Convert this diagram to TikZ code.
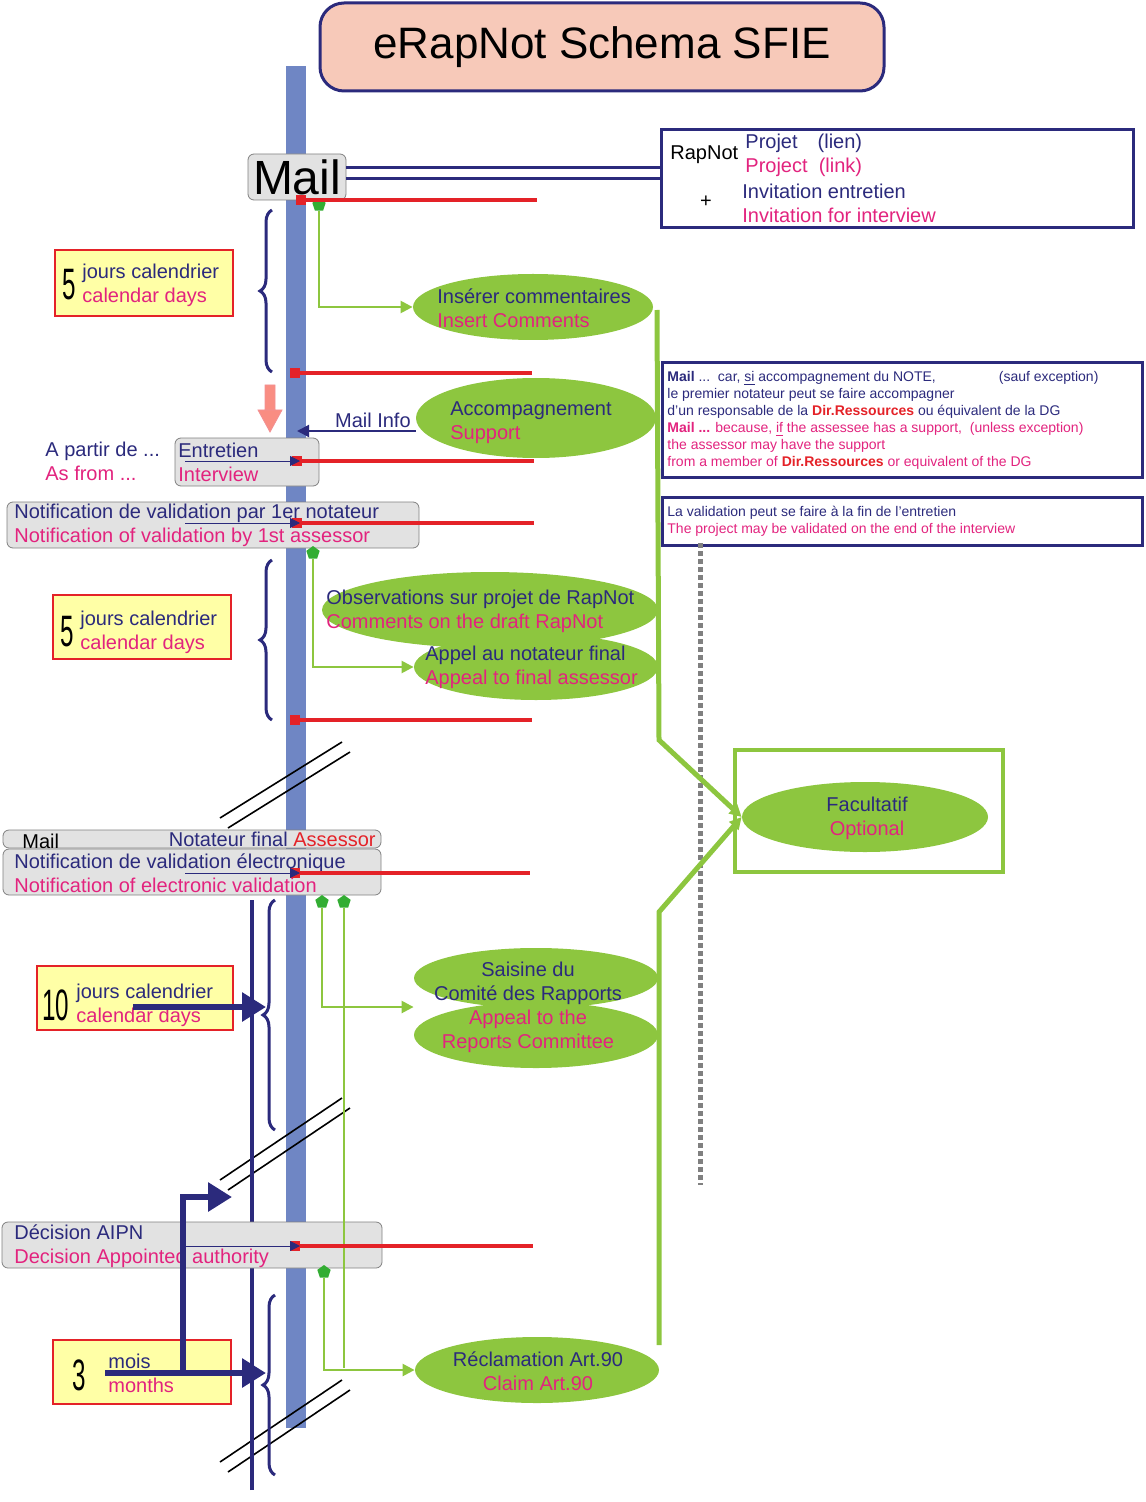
\documentclass[tikz,border=0pt]{standalone}
\usepackage{fontspec}
\setmainfont{Liberation Sans}
\usetikzlibrary{shapes,arrows.meta,positioning,decorations.pathreplacing}
\definecolor{navy}{HTML}{2B2A7C}
\definecolor{mag}{HTML}{E2237E}
\definecolor{rred}{HTML}{E42228}
\definecolor{lgreen}{HTML}{8DC63F}
\definecolor{pinkf}{HTML}{F7C9B9}
\definecolor{yel}{HTML}{FFFFA6}
\definecolor{barblue}{HTML}{6F86C4}
\definecolor{gbg}{HTML}{E2E2E2}
\newcommand{\fr}[2]{\textcolor{navy}{#1}\\\textcolor{mag}{#2}}
\newcommand{\tall}[1]{\scalebox{0.55}[1]{#1}}
\begin{document}
\begin{tikzpicture}[x=0.5pt,y=-0.5pt,
	every node/.style={font=\fontsize{10}{12}\selectfont, inner sep=0pt},
	gbox/.style={draw=gray, fill=gbg, rounded corners=3pt},
	ybox/.style={draw=rred, line width=1.2pt, fill=yel},
	ell/.style={ellipse, fill=lgreen, align=center},
	lbl/.style={align=left, anchor=west},
	redl/.style={rred, line width=2pt},
	redsq/.style={fill=rred, minimum size=5pt},
	grn/.style={lgreen, line width=1.2pt},
	garr/.style={grn, -{Triangle[length=6pt,width=6pt]}},
	pent/.style={regular polygon, regular polygon sides=5, fill=black!40!green!80, minimum size=7pt},
	brc/.style={navy, line width=1.5pt, decorate, decoration={brace, amplitude=6pt}},
	brk/.style={black, line width=0.8pt},
	narr/.style={navy, line width=3pt, -{Triangle[length=12pt,width=14pt]}},
	note/.style={lbl, font=\fontsize{7}{8.5}\selectfont}
]
\useasboundingbox (0,0) rectangle (1145,1502);
% title and time line
\node[draw=navy, line width=1.5pt, fill=pinkf, rounded corners=12pt, minimum width=282pt, minimum height=44pt,
	font=\fontsize{22}{26}\selectfont] (title) at (602,47) {eRapNot Schema SFIE};
\fill[barblue] (286,66) rectangle (306,1428);

% mail and project box
\node[gbox, minimum width=49pt, minimum height=23pt, font=\fontsize{24}{26}\selectfont] (mail) at (297,177) {Mail};
\node[draw=navy, line width=1.5pt, minimum width=236pt, minimum height=49pt] (proj) at (897,179) {};
\draw[navy, line width=1.5pt] (mail.east |- 0,168) -- (proj.west |- 0,168) (mail.east |- 0,179) -- (proj.west |- 0,179);
\node[lbl] (rapnot) at (670,155) {RapNot};
\node[lbl] (projet) at (745,155) {\fr{Projet\quad(lien)}{Project\ \ (link)}};
\node (plus) at (706,202) {+};
\node[lbl] (invit) at (742,203) {\fr{Invitation entretien}{Invitation for interview}};

% first period
\node[ybox, minimum width=89pt, minimum height=33pt] (j5a) at (144,283) {};
\node[lbl, font=\fontsize{22}{22}\selectfont] (n5a) at (62,285) {\tall{5}};
\node[lbl] (t5a) at (82,285) {\fr{jours calendrier}{calendar days}};
\draw[brc] (272,372) -- (272,210);
\node[ell, minimum width=120pt, minimum height=33pt] (ins) at (533,307) {};
\node[lbl] (tins) at (437,308) {\fr{Insérer commentaires}{Insert Comments}};
\node[pent] (p1) at (319,205) {};
\draw[garr] (p1) |- (ins.west);

% interview
\fill[pinkf!70!red, draw=rred!50] (265,385) rectangle (275,410) (258,410) -- (282,410) -- (270,432) -- cycle;
\node[ell, minimum width=120pt, minimum height=40pt] (acc) at (536,418) {};
\node[lbl] (tacc) at (450,423) {\fr{Accompagnement}{Support}};
\draw[navy, line width=1pt, -{Triangle[length=6pt,width=6pt]}] (acc.west |- 0,431) -- (297,431) node[pos=0.36, above=1pt] (minfo) {Mail Info};
\node[lbl] (apartir) at (45,461) {\fr{A partir de ...}{As from ...}};
\node[gbox, minimum width=72pt, minimum height=24pt] (entr) at (247,462) {};
\node[lbl] (tentr) at (178,462) {\fr{Entretien}{Interview}};
\node[gbox, minimum width=206pt, minimum height=23pt] (nv1) at (213,525) {};
\node[lbl] (tnv1) at (14,525) {\fr{Notification de validation par 1er notateur}{Notification of validation by 1st assessor}};

% notes
\node[draw=navy, line width=1.5pt, minimum width=240pt, minimum height=57pt] (nbox) at (902,420) {};
\node[note] (tnote) at (667,420) {\textcolor{navy}{\textbf{Mail} ...\ \ car, \underline{si} accompagnement du NOTE,\hspace{4.5em}(sauf exception)}\\
	\textcolor{navy}{le premier notateur peut se faire accompagner}\\
	\textcolor{navy}{d'un responsable de la \textcolor{rred}{\textbf{Dir.Ressources}} ou équivalent de la DG}\\
	\textcolor{mag}{\textbf{Mail ...} because, \underline{if} the assessee has a support,\ \ (unless exception)}\\
	\textcolor{mag}{the assessor may have the support}\\
	\textcolor{mag}{from a member of \textcolor{rred}{\textbf{Dir.Ressources}} or equivalent of the DG}};
\node[draw=navy, line width=1.5pt, minimum width=240pt, minimum height=24pt] (vbox) at (902,521) {};
\node[note] (tval) at (667,521) {\textcolor{navy}{La validation peut se faire à la fin de l'entretien}\\\textcolor{mag}{The project may be validated on the end of the interview}};
\draw[gray, line width=2.5pt, dash pattern=on 2.5pt off 1.5pt] (700,543) -- (700,1185);

% second period
\node[ybox, minimum width=89pt, minimum height=32pt] (j5b) at (142,627) {};
\node[lbl, font=\fontsize{22}{22}\selectfont] (n5b) at (60,632) {\tall{5}};
\node[lbl] (t5b) at (80,632) {\fr{jours calendrier}{calendar days}};
\draw[brc] (272,720) -- (272,560);
\node[ell, minimum width=168pt, minimum height=38pt] (obs) at (490,610) {};
\node[lbl] (tobs) at (326,611) {\fr{Observations sur projet de RapNot}{Comments on the draft RapNot}};
\node[ell, minimum width=122pt, minimum height=33pt] (appf) at (536,667) {};
\node[lbl] (tappf) at (425,667) {\fr{Appel au notateur final}{Appeal to final assessor}};
\node[pent] (p2) at (313,553) {};
\draw[garr] (p2) |- (appf.west);

% optional
\node[draw=lgreen, line width=2pt, minimum width=134pt, minimum height=61pt] (fbox) at (869,811) {};
\node[ell, minimum width=123pt, minimum height=35pt] (fac) at (865,817) {};
\node[align=center] (tfac) at (867,818) {\textcolor{navy}{Facultatif}\\\textcolor{mag}{Optional}};
\coordinate (g1) at (657,310);
\coordinate (g2) at (659,1345);
\draw[garr, line width=2.5pt] (g1) -- (659,740) -- (fac.west);
\draw[garr, line width=2.5pt] (g2) -- (659,912) -- (fac.west);

% breaks
\foreach \ya/\yb in {818/742, 1180/1098, 1462/1380}{
	\draw[brk] (220,\ya) -- (342,\yb);
	\draw[brk] (228,\ya+10) -- (350,\yb+10);
}

% electronic validation
\node[gbox, minimum width=189pt, minimum height=9pt] (mfin) at (192,839) {};
\node[lbl] (tmfin) at (22,841) {Mail};
\node[anchor=east] (tnotf) at (376,839) {\textcolor{navy}{Notateur final} \textcolor{rred}{Assessor}};
\node[gbox, minimum width=189pt, minimum height=23pt] (nve) at (192,872) {};
\node[lbl] (tnve) at (14,873) {\fr{Notification de validation électronique}{Notification of electronic validation}};
\node[pent] (p3) at (322,902) {};
\node[pent] (p4) at (344,902) {};
\node[ell, minimum width=122pt, minimum height=30pt] (sai1) at (536,978) {};
\node[ell, minimum width=122pt, minimum height=33pt] (sai2) at (536,1035) {};
\node[align=center] (tsai) at (528,1007) {\textcolor{navy}{Saisine du}\\\textcolor{navy}{Comité des Rapports}\\\textcolor{mag}{Appeal to the}\\\textcolor{mag}{Reports Committee}};
\draw[garr] (p3) |- (sai2.west |- 0,1007);
\node[ybox, minimum width=98pt, minimum height=32pt] (j10) at (135,998) {};
\node[lbl, font=\fontsize{22}{22}\selectfont] (n10) at (42,1005) {\tall{10}};
\node[lbl] (t10) at (76,1005) {\fr{jours calendrier}{calendar days}};
\draw[brc] (275,1130) -- (275,900);
\draw[navy, line width=2pt] (252,1490) -- (252,900);
\draw[narr] (133,1007) -- (266,1007);

% decision
\node[gbox, minimum width=190pt, minimum height=23pt] (dec) at (192,1245) {};
\node[lbl] (tdec) at (14,1246) {\fr{Décision AIPN}{Decision Appointed authority}};
\node[pent] (p5) at (324,1272) {};
\node[ell, minimum width=122pt, minimum height=33pt] (recl) at (537,1370) {};
\node[align=center] (trecl) at (538,1371) {\textcolor{navy}{Réclamation Art.90}\\\textcolor{mag}{Claim Art.90}};
\draw[garr] (p5) |- (recl.west);
\draw[grn] (p4) -- (344,1368);
\node[ybox, minimum width=89pt, minimum height=32pt] (m3) at (142,1372) {};
\node[lbl, font=\fontsize{22}{22}\selectfont] (n3) at (72,1375) {\tall{3}};
\node[lbl] (t3) at (108,1373) {\fr{mois}{months}};
\draw[brc] (275,1475) -- (275,1295);
\draw[narr] (105,1373) -- (266,1373);
\draw[navy, line width=3pt, -{Triangle[length=12pt,width=14pt]}] (183,1373) -- (183,1197) -- (232,1197);

% red marks on the time line
\foreach \y/\xa/\xb in {200/296/537, 373/290/532, 461/292/534, 523/292/534, 720/290/532, 873/290/530, 1246/290/533}{
	\draw[redl] (\xa,\y) -- (\xb,\y);
	\node[redsq] at (\xa+5,\y) {};
}
\foreach \y/\xa in {461/185, 523/185, 873/185, 1246/180}
	\draw[navy, thin, -{Triangle[length=5pt,width=5pt]}] (\xa,\y) -- (300,\y);
\end{tikzpicture}
\end{document}
